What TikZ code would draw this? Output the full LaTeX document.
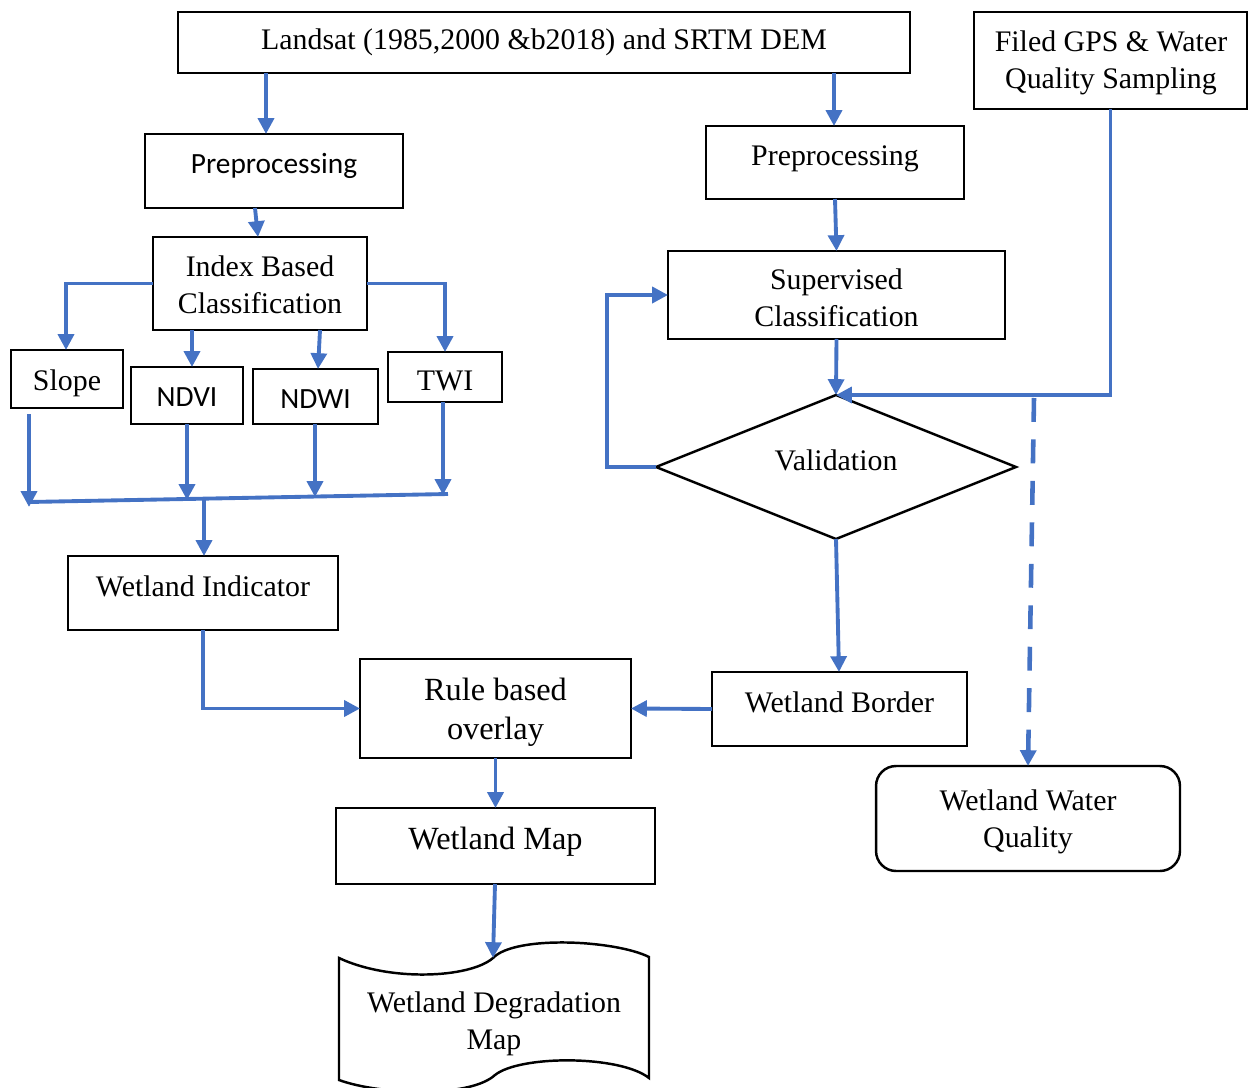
\documentclass[tikz,border=0pt]{standalone}
\usepackage{fontspec}
\setmainfont{Liberation Serif}
\newfontfamily\calfont{Carlito}
\usetikzlibrary{arrows.meta,shapes.geometric,calc}
\definecolor{lineblue}{HTML}{4472C4}
\begin{document}
\begin{tikzpicture}[x=0.02cm,y=-0.02cm,
 box/.style={draw=black,line width=1.4pt,inner sep=0pt,outer sep=0pt},
 txt/.style={inner sep=0pt,align=center,font=\fontsize{17}{21}\selectfont},
 bigtxt/.style={inner sep=0pt,align=center,font=\fontsize{18.4}{22.2}\selectfont},
 stxt/.style={inner sep=0pt,align=center,font=\calfont\fontsize{16.7}{21}\selectfont},
 arr/.style={draw=lineblue,line width=2.2pt,-{Triangle[length=9pt,width=9pt]}},
 ln/.style={draw=lineblue,line width=2.2pt},
 dashln/.style={draw=lineblue,line width=2.6pt,dash pattern=on 13.6pt off 10pt,-{Triangle[length=9pt,width=9pt]}},
]
\useasboundingbox (0,0) rectangle (1248,1088);

% boxes
\node[box,minimum width=14.64cm,minimum height=1.22cm] (land) at (544,42.5) {};
\node[box,minimum width=5.46cm,minimum height=1.94cm] (gps) at (1110.5,60.5) {};
\node[box,minimum width=5.16cm,minimum height=1.48cm] (pre1) at (274,171) {};
\node[box,minimum width=5.16cm,minimum height=1.46cm] (pre2) at (835,162.5) {};
\node[box,minimum width=4.28cm,minimum height=1.86cm] (idx) at (260,283.5) {};
\node[box,minimum width=2.24cm,minimum height=1.16cm] (slope) at (67,379) {};
\node[box,minimum width=2.24cm,minimum height=1.14cm] (ndvi) at (187,395.5) {};
\node[box,minimum width=2.5cm,minimum height=1.1cm] (ndwi) at (315.5,396.5) {};
\node[box,minimum width=2.28cm,minimum height=1.0cm] (twi) at (445,377) {};
\node[box,minimum width=5.4cm,minimum height=1.48cm] (wind) at (203,593) {};
\node[box,minimum width=5.42cm,minimum height=1.98cm] (rule) at (495.5,708.5) {};
\node[box,minimum width=5.1cm,minimum height=1.48cm] (border) at (839.5,709) {};
\node[box,minimum width=6.74cm,minimum height=1.76cm] (sup) at (836.5,295) {};
\node[box,diamond,aspect=2.5,minimum width=7.2cm,minimum height=2.88cm] (val) at (836,467) {};
\node[box,rounded corners=0.4cm,minimum width=6.08cm,minimum height=2.1cm] (wq) at (1028,818.5) {};
\node[box,minimum width=6.38cm,minimum height=1.52cm] (map) at (495.5,846) {};

% document shape
\draw[line width=1.4pt] (339,958) .. controls (390,982) and (470,978) .. (493,958)
  .. controls (515,935) and (615,940) .. (649,957) -- (649,1078)
  .. controls (620,1055) and (520,1055) .. (495,1075)
  .. controls (470,1098) and (380,1095) .. (339,1080) -- cycle;
\coordinate (doctop) at (493,958);

% texts
\node[txt] (landT) at (544,42.5) {Landsat (1985,2000 \&b2018) and SRTM DEM};
\node[txt] (gpsT) at (1111,62.5) {Filed GPS \& Water\\Quality Sampling};
\node[stxt] (pre1T) at (274,166) {Preprocessing};
\node[txt] (pre2T) at (835,158.5) {Preprocessing};
\node[txt] (idxT) at (260,284.5) {Index Based\\Classification};
\node[txt] (slopeT) at (67,383) {Slope};
\node[stxt] (ndviT) at (187,397.5) {NDVI};
\node[stxt] (ndwiT) at (315.5,399.5) {NDWI};
\node[txt] (twiT) at (445,381) {TWI};
\node[txt] (windT) at (203,586) {Wetland Indicator};
\node[bigtxt] (ruleT) at (495.5,712) {Rule based\\overlay};
\node[txt] (borderT) at (839.5,702) {Wetland Border};
\node[txt] (supT) at (836.5,298) {Supervised\\Classification};
\node[txt] (valT) at (836,460) {Validation};
\node[txt] (wqT) at (1028,822) {Wetland Water\\Quality};
\node[bigtxt] (mapT) at (495.5,842) {Wetland Map};
\node[txt] (doc) at (494,1023.5) {Wetland Degradation\\Map};

% junction coordinates
\coordinate (jA) at (29,507);
\coordinate (jB) at (187,500);
\coordinate (jC) at (315,497);
\coordinate (jD) at (443,495);
\coordinate (hL) at (29,502);
\coordinate (hR) at (448,494);
\coordinate (hM) at (204,500);
\coordinate (dtop) at (1034,398);

% connectors
\draw[arr] (land.south -| 266,0) -- (pre1.north -| 266,0);
\draw[arr] (land.south -| 834,0) -- (pre2.north -| 834,0);
\draw[arr] (pre1.south -| 255,0) -- (idx.north -| 258,0);
\draw[arr] (idx.west) -| (slope.north -| 66,0);
\draw[arr] (idx.south -| 192,0) -- (ndvi.north -| 192,0);
\draw[arr] (idx.south -| 320,0) -- (ndwi.north -| 318,0);
\draw[arr] (idx.east) -| (twi.north);
\draw[arr] (29,414) -- (jA);
\draw[arr] (ndvi.south -| jB) -- (jB);
\draw[arr] (ndwi.south -| jC) -- (jC);
\draw[arr] (twi.south -| jD) -- (jD);
\draw[ln] (hL) -- (hR);
\draw[arr] (hM) -- (wind.north -| hM);
\draw[arr] (wind.south) |- (rule.west);
\draw[arr] (border.west) -- (rule.east);
\draw[arr] (rule.south) -- (map.north);
\draw[arr] (map.south -| 495,0) -- (doctop);
\draw[arr] (pre2.south) -- (sup.north);
\draw[arr] (sup.south) -- (val.north);
\draw[arr] (gps.south) |- (val.north);
\draw[arr] (val.west) -- (val.west -| 607,0) |- (sup.west);
\draw[arr] (val.south) -- (border.north -| 839,0);
\draw[dashln] (dtop) -- (wq.north -| 1028,0);
\end{tikzpicture}
\end{document}
